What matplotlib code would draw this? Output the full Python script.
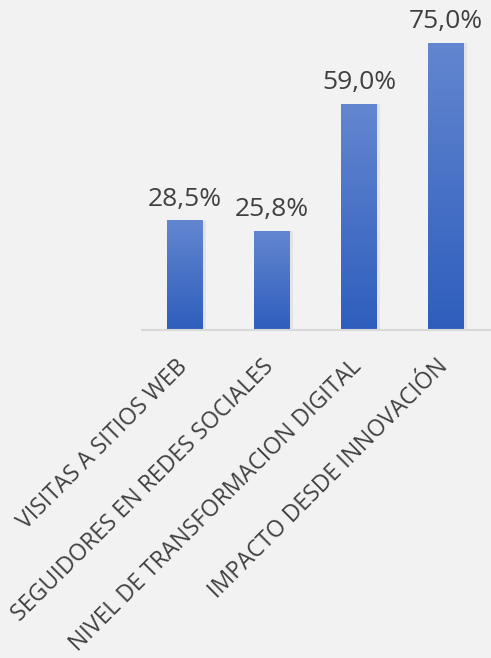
import matplotlib.pyplot as plt
import matplotlib.transforms as mtransforms
import numpy as np

categorias = ["VISITAS A SITIOS WEB", "SEGUIDORES EN REDES SOCIALES",
              "NIVEL DE TRANSFORMACION DIGITAL", "IMPACTO DESDE INNOVACIÓN"]
valores = [28.5, 25.8, 59.0, 75.0]
etiquetas = ["28,5%", "25,8%", "59,0%", "75,0%"]

plt.rcParams['font.family'] = ['Open Sans', 'DejaVu Sans']

fondo = '#F2F2F2'
texto = '#404040'

fig = plt.figure(figsize=(4.91, 6.58), dpi=100, facecolor=fondo)
ax = fig.add_axes([0.2885, 0.4985, 0.7088, 0.465])
ax.set_facecolor(fondo)

x = np.arange(len(valores))
ancho = 0.41
barras = ax.bar(x, valores, width=ancho, color='none', edgecolor='none')

# degradado azul en cada barra
grad = np.linspace(0, 1, 256).reshape(-1, 1)
cmap = plt.matplotlib.colors.LinearSegmentedColormap.from_list('azul', ['#2E5EBD', '#6386D0'])
for b in barras:
    x0, w, h = b.get_x(), b.get_width(), b.get_height()
    ax.imshow(grad, extent=[x0, x0 + w, 0, h], origin='lower', cmap=cmap,
              aspect='auto', zorder=2)
    # sombra suave
    ax.bar(x0 + w / 2 + 0.015, h, width=w + 0.03, color='#000000', alpha=0.06, zorder=1)

for xi, v, t in zip(x, valores, etiquetas):
    ax.annotate(t, (xi, v), xytext=(0, 6.5), textcoords='offset points',
                ha='center', va='bottom', fontsize=19, color=texto)

# etiquetas de categoria giradas 45 grados
desp = mtransforms.ScaledTranslation(-0.10, -0.25, fig.dpi_scale_trans)
for xi, c in zip(x, categorias):
    ax.text(xi, 0, c, transform=ax.get_xaxis_transform() + desp,
            rotation=45, ha='right', va='top', rotation_mode='anchor',
            fontsize=16.6, color=texto)

ax.set_xlim(-0.5, 3.5)
ax.set_ylim(0, 80)
ax.set_xticks([])
ax.set_yticks([])
for s in ['top', 'right', 'left']:
    ax.spines[s].set_visible(False)
ax.spines['bottom'].set_color('#D9D9D9')
ax.spines['bottom'].set_linewidth(1.5)

fig.savefig('out.png', dpi=100, facecolor=fondo)
